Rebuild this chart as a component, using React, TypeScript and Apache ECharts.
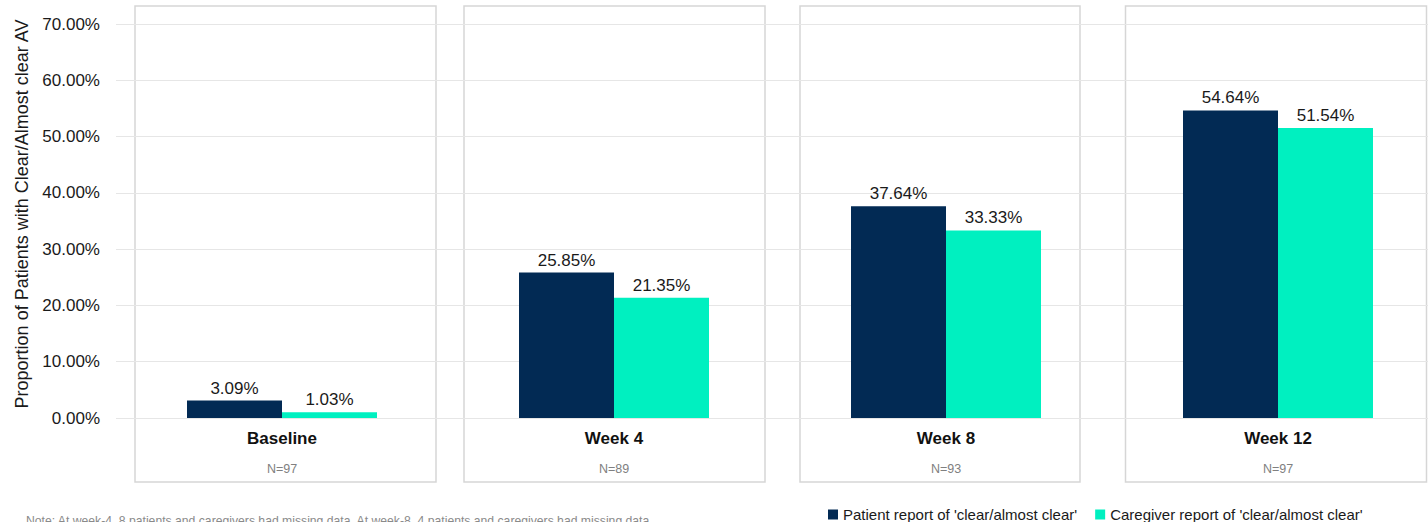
import React, { useEffect, useRef } from "react";
import * as echarts from "echarts";

const categories = ["Baseline", "Week 4", "Week 8", "Week 12"];
const sampleSizes = ["N=97", "N=89", "N=93", "N=97"];
const patientValues = [3.09, 25.85, 37.64, 54.64];
const caregiverValues = [1.03, 21.35, 33.33, 51.54];
const seriesNames = ["Patient report of 'clear/almost clear'", "Caregiver report of 'clear/almost clear'"];
const yTicks = { min: 0, max: 70, interval: 10 };
const yTitle = "Proportion of Patients with Clear/Almost clear AV";
const note = "Note: At week-4, 8 patients and caregivers had missing data. At week-8, 4 patients and caregivers had missing data.";

// panel frames (decoration)
const panels = [
  { x: 135, w: 301 },
  { x: 464, w: 301 },
  { x: 800, w: 280 },
  { x: 1125.5, w: 301 },
];

const FONT = "Liberation Sans, Arial, sans-serif";

export default function App() {
  const ref = useRef<HTMLDivElement>(null);
  useEffect(() => {
    if (!ref.current) return;
    const chart = echarts.init(ref.current, undefined, { renderer: "svg" });
    const graphics: any[] = panels.map((p) => ({
      type: "rect",
      z: 0,
      silent: true,
      shape: { x: p.x, y: 6, width: p.w, height: 476 },
      style: { fill: "none", stroke: "#d6d6d6", lineWidth: 1.5 },
    }));
    graphics.push({
      type: "text",
      x: 22,
      y: 214,
      rotation: Math.PI / 2,
      silent: true,
      style: {
        text: yTitle,
        fontFamily: FONT,
        fontSize: 18,
        fill: "#1a1a1a",
        textAlign: "center",
        textVerticalAlign: "middle",
      },
    });
    graphics.push({
      type: "text",
      x: 26,
      y: 515,
      silent: true,
      style: {
        text: note,
        fontFamily: FONT,
        fontSize: 12.2,
        fill: "#8a8a8a",
        textAlign: "left",
        textVerticalAlign: "top",
      },
    });

    const valueLabel = {
      show: true,
      position: "top",
      distance: 4,
      fontFamily: FONT,
      fontSize: 17,
      color: "#1a1a1a",
      formatter: (p: any) => p.value.toFixed(2) + "%",
    };

    chart.setOption({
      animation: false,
      backgroundColor: "#ffffff",
      textStyle: { fontFamily: FONT },
      grid: { left: 116, top: 24, width: 1328, height: 394, containLabel: false },
      legend: {
        left: 823,
        top: 502,
        itemWidth: 10,
        itemHeight: 10,
        itemGap: 18,
        icon: "rect",
        textStyle: { fontFamily: FONT, fontSize: 15, color: "#1a1a1a" },
        data: seriesNames,
      },
      xAxis: {
        type: "category",
        data: categories,
        axisLine: { show: false },
        axisTick: { show: false },
        axisLabel: {
          margin: 8,
          interval: 0,
          formatter: (v: string, i: number) => `{b|${v}}\n{n|${sampleSizes[i]}}`,
          rich: {
            b: { fontFamily: FONT, fontSize: 17, fontWeight: "bold", color: "#111", lineHeight: 24 },
            n: { fontFamily: FONT, fontSize: 12.5, color: "#808080", lineHeight: 38 },
          },
        },
      },
      yAxis: {
        type: "value",
        min: yTicks.min,
        max: yTicks.max,
        interval: yTicks.interval,
        axisLine: { show: false },
        axisTick: { show: false },
        splitLine: { lineStyle: { color: "#e6e6e6", width: 1.2 } },
        axisLabel: {
          margin: 16,
          fontFamily: FONT,
          fontSize: 17,
          color: "#1a1a1a",
          formatter: (v: number) => v.toFixed(2) + "%",
        },
      },
      series: [
        {
          name: seriesNames[0],
          type: "bar",
          data: patientValues,
          barWidth: 95,
          barGap: "0%",
          z: 3,
          itemStyle: { color: "#022A54" },
          label: valueLabel,
        },
        {
          name: seriesNames[1],
          type: "bar",
          data: caregiverValues,
          barWidth: 95,
          barGap: "0%",
          z: 3,
          itemStyle: { color: "#00F0C0" },
          label: valueLabel,
        },
      ],
      graphic: graphics,
    });
    return () => chart.dispose();
  }, []);
  return (
    <div
      style={{ position: "fixed", left: 0, top: 0, width: 1428, height: 522, overflow: "hidden", background: "#fff" }}
    >
      <div ref={ref} style={{ width: 1444, height: 522 }} />
    </div>
  );
}
